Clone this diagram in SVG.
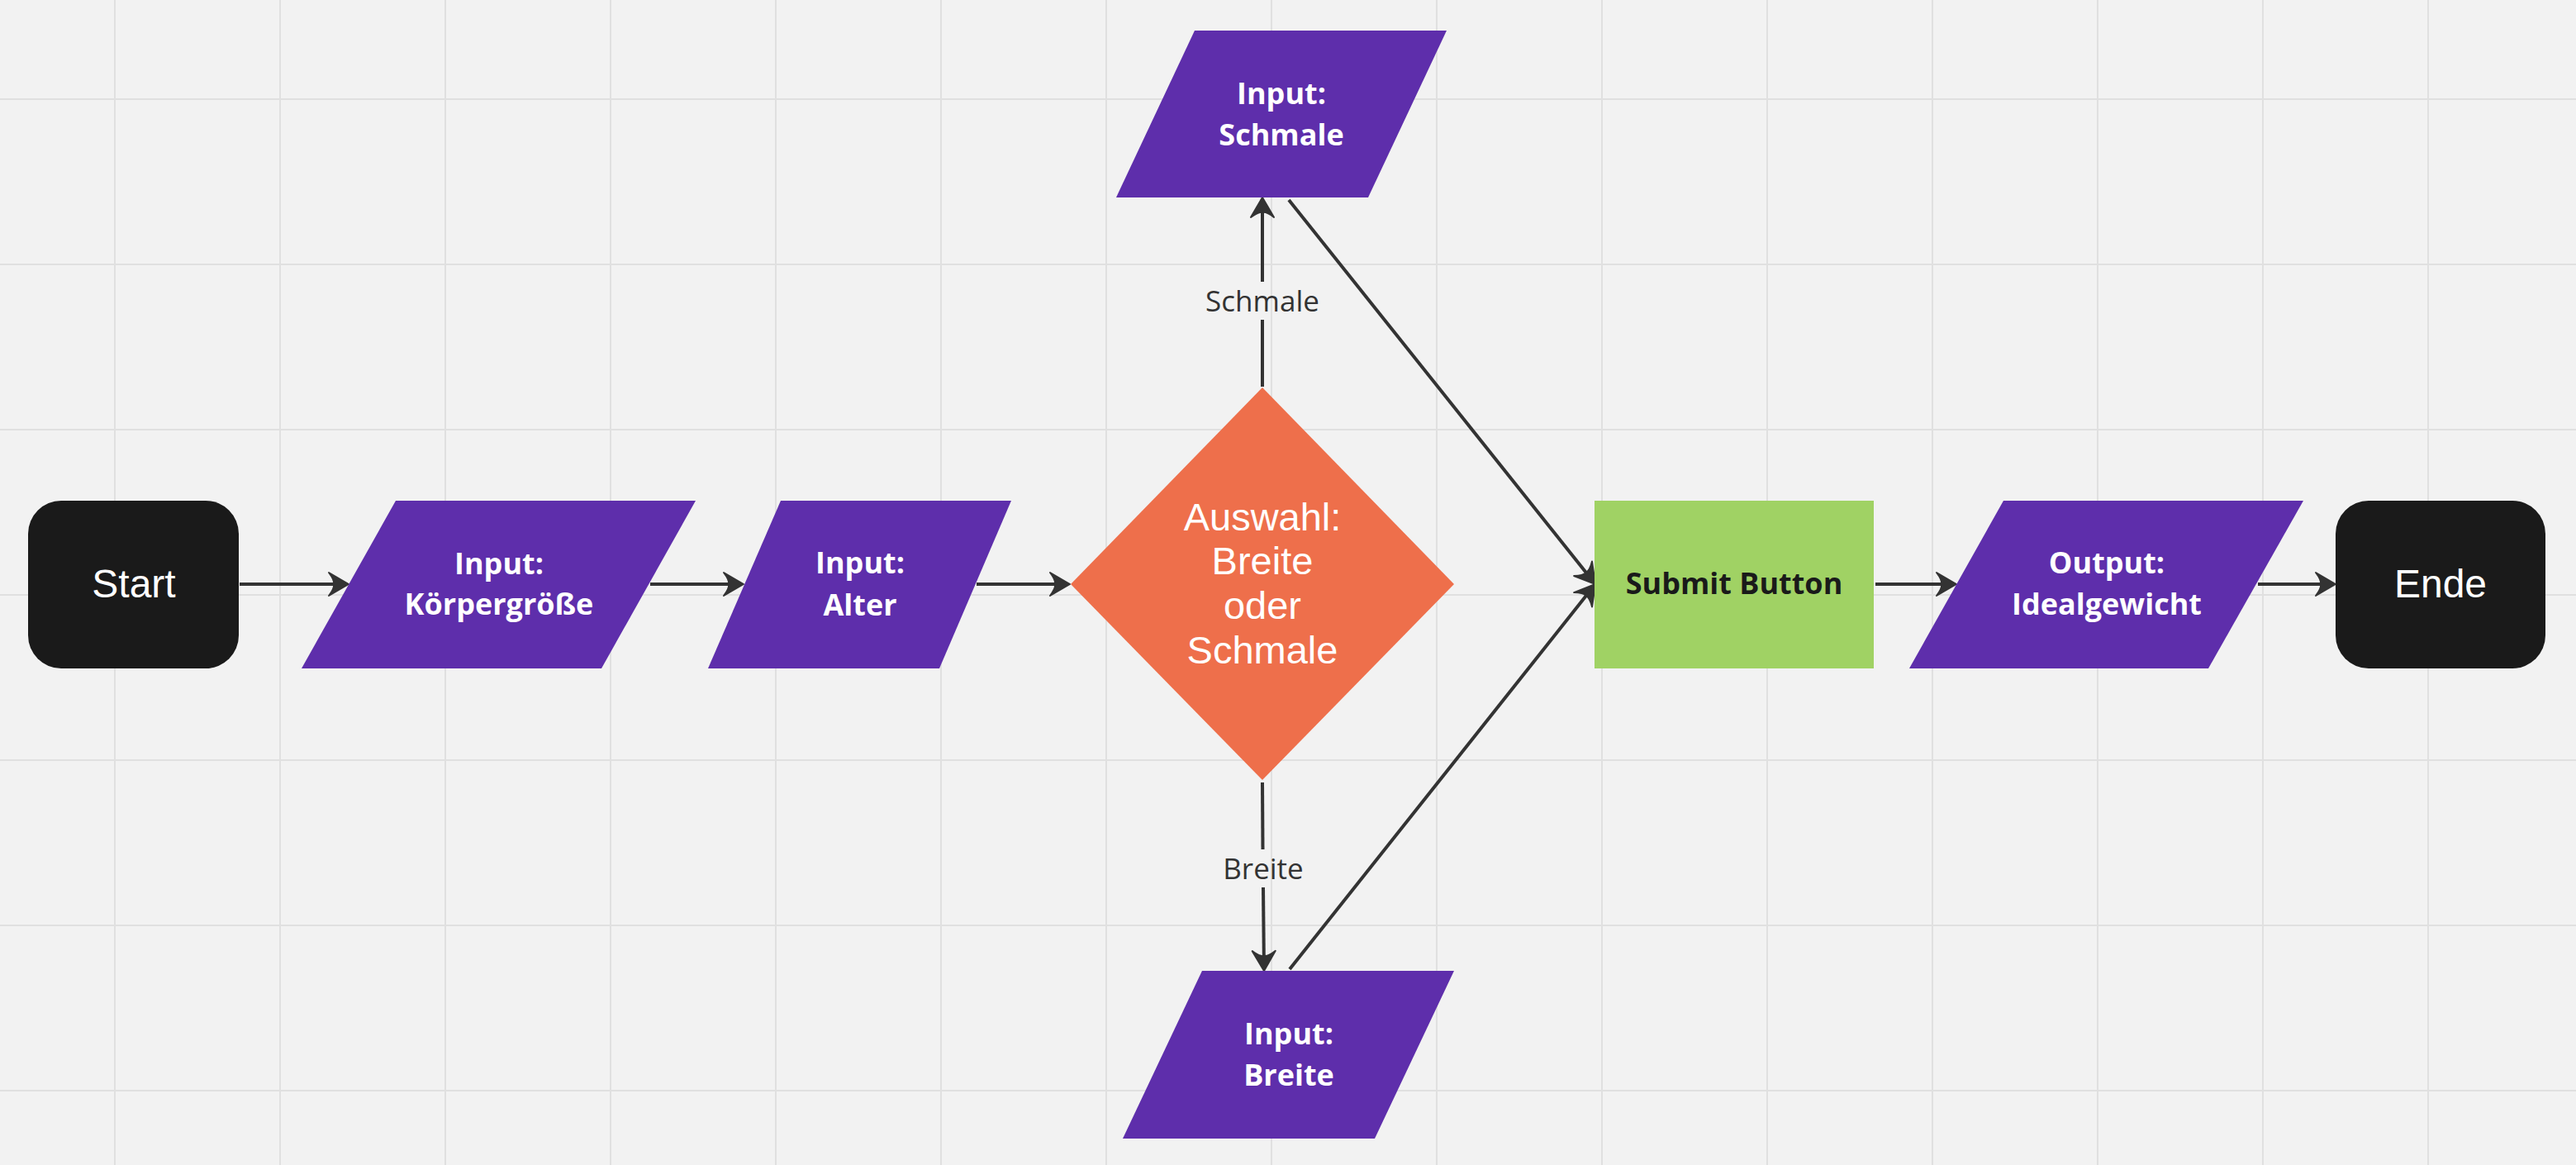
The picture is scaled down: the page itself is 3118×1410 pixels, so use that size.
<svg xmlns="http://www.w3.org/2000/svg" width="3118" height="1410" viewBox="0 0 3118 1410">
<defs>
<style>
.grid line{stroke:#e0e0e0;stroke-width:2}
.conn{fill:none;stroke:#333333;stroke-width:4}
.io{fill:#5e2eab}
.term{fill:#1a1a1a}
.nt{font-family:"Open Sans","Noto Sans",sans-serif;font-weight:bold;font-size:36px;fill:#ffffff;text-anchor:middle}
.at{font-family:"Liberation Sans",Arial,sans-serif;font-size:47px;fill:#ffffff;text-anchor:middle}
.lbl{font-family:"Open Sans","Noto Sans",sans-serif;font-size:35px;fill:#333333;text-anchor:middle}
</style>
<marker id="arr" markerUnits="userSpaceOnUse" viewBox="0 0 32 34" markerWidth="32" markerHeight="34" refX="18" refY="17" orient="auto">
<path d="M28,17 L4,3 Q11,12 10,17 Q11,22 4,31 Z" fill="#333333" stroke="#333333" stroke-width="2" stroke-linejoin="round"/>
</marker>
</defs>
<rect width="3118" height="1410" fill="#f2f2f2"/>
<g class="grid">
<line x1="139" y1="0" x2="139" y2="1410"/><line x1="339" y1="0" x2="339" y2="1410"/><line x1="539" y1="0" x2="539" y2="1410"/><line x1="739" y1="0" x2="739" y2="1410"/><line x1="939" y1="0" x2="939" y2="1410"/><line x1="1139" y1="0" x2="1139" y2="1410"/><line x1="1339" y1="0" x2="1339" y2="1410"/><line x1="1539" y1="0" x2="1539" y2="1410"/><line x1="1739" y1="0" x2="1739" y2="1410"/><line x1="1939" y1="0" x2="1939" y2="1410"/><line x1="2139" y1="0" x2="2139" y2="1410"/><line x1="2339" y1="0" x2="2339" y2="1410"/><line x1="2539" y1="0" x2="2539" y2="1410"/><line x1="2739" y1="0" x2="2739" y2="1410"/><line x1="2939" y1="0" x2="2939" y2="1410"/>
<line x1="0" y1="120" x2="3118" y2="120"/><line x1="0" y1="320" x2="3118" y2="320"/><line x1="0" y1="520" x2="3118" y2="520"/><line x1="0" y1="720" x2="3118" y2="720"/><line x1="0" y1="920" x2="3118" y2="920"/><line x1="0" y1="1120" x2="3118" y2="1120"/><line x1="0" y1="1320" x2="3118" y2="1320"/>
</g>
<g id="connectors">
<path class="conn" d="M290,707 L412,707" marker-end="url(#arr)"/>
<path class="conn" d="M787,707 L890,707" marker-end="url(#arr)"/>
<path class="conn" d="M1182,707 L1285,707" marker-end="url(#arr)"/>
<path class="conn" d="M1528,468 L1528,387"/>
<path class="conn" d="M1528,341 L1528,249" marker-end="url(#arr)"/>
<text class="lbl" x="1528" y="377">Schmale</text>
<path class="conn" d="M1528,947 L1528.5,1028"/>
<path class="conn" d="M1529,1074 L1529.9,1165" marker-end="url(#arr)"/>
<text class="lbl" x="1529" y="1064">Breite</text>
<path class="conn" d="M1560,242 L1924.8,699.2" marker-end="url(#arr)"/>
<path class="conn" d="M1561,1173 L1924.8,714.8" marker-end="url(#arr)"/>
<path class="conn" d="M2270,707 L2358,707" marker-end="url(#arr)"/>
<path class="conn" d="M2733,707 L2817,707" marker-end="url(#arr)"/>
</g>
<g id="start">
<rect class="term" x="34" y="606" width="255" height="203" rx="40" ry="40"/>
<text class="at" x="162" y="723" style="font-size:48px">Start</text>
</g>
<g id="input-koerpergroesse">
<polygon class="io" points="479,606 842,606 728,809 365,809"/>
<text class="nt" x="604" y="695">Input:</text>
<text class="nt" x="604" y="744">Körpergröße</text>
</g>
<g id="input-alter">
<polygon class="io" points="945,606 1224,606 1137,809 857,809"/>
<text class="nt" x="1041" y="694">Input:</text>
<text class="nt" x="1041" y="745">Alter</text>
</g>
<g id="auswahl">
<polygon fill="#ee6f4b" points="1528,469 1760,707 1528,944 1296,707"/>
<text class="at" x="1528" y="642">Auswahl:</text>
<text class="at" x="1528" y="695">Breite</text>
<text class="at" x="1528" y="749">oder</text>
<text class="at" x="1528" y="803">Schmale</text>
</g>
<g id="input-schmale">
<polygon class="io" points="1446,37 1751,37 1656,239 1351,239"/>
<text class="nt" x="1551" y="126">Input:</text>
<text class="nt" x="1551" y="176">Schmale</text>
</g>
<g id="input-breite">
<polygon class="io" points="1455,1175 1760,1175 1664,1378 1359,1378"/>
<text class="nt" x="1560" y="1264">Input:</text>
<text class="nt" x="1560" y="1314">Breite</text>
</g>
<g id="submit">
<rect x="1930" y="606" width="338" height="203" fill="#a0d264"/>
<text class="nt" x="2099" y="719" style="fill:#1a1a1a">Submit Button</text>
</g>
<g id="output-idealgewicht">
<polygon class="io" points="2425,606 2788,606 2673,809 2311,809"/>
<text class="nt" x="2550" y="694">Output:</text>
<text class="nt" x="2550" y="744">Idealgewicht</text>
</g>
<g id="ende">
<rect class="term" x="2827" y="606" width="254" height="203" rx="40" ry="40"/>
<text class="at" x="2954" y="723" style="font-size:48px">Ende</text>
</g>
</svg>
